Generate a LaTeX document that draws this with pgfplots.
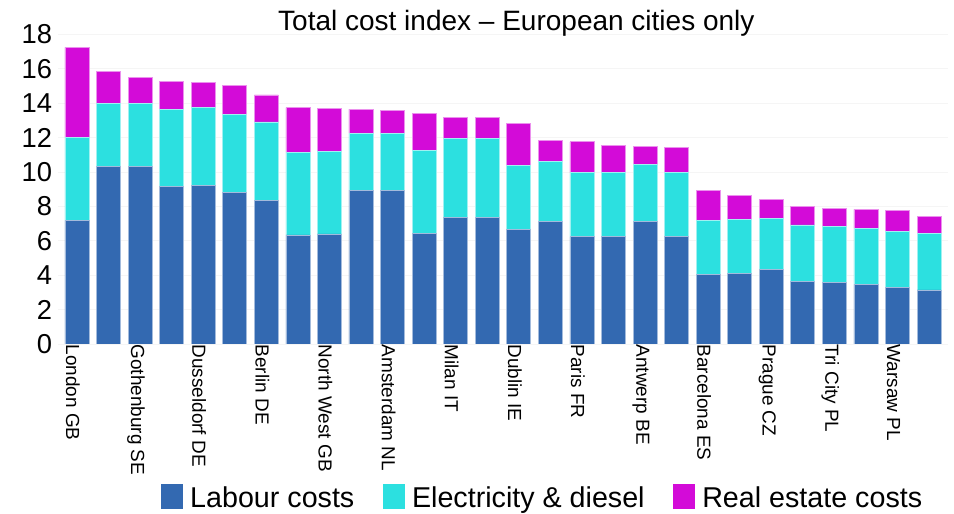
\documentclass[border=0pt]{standalone}
\usepackage{fontspec}
\setmainfont{Liberation Sans}
\usepackage{pgfplots}
\usepackage{pgfplotstable}
\pgfplotsset{compat=1.18}

\definecolor{labour}{HTML}{3369B1}
\definecolor{elec}{HTML}{2CE0E0}
\definecolor{realest}{HTML}{D30BD8}

% Cost index components per city (labour, electricity & diesel, real estate)
\pgfplotstableread{
idx L E R
0 7.19 4.83 5.23
1 10.31 3.68 1.84
2 10.31 3.68 1.51
3 9.15 4.51 1.59
4 9.21 4.53 1.47
5 8.82 4.55 1.65
6 8.37 4.54 1.57
7 6.34 4.82 2.58
8 6.40 4.80 2.48
9 8.95 3.30 1.41
10 8.95 3.30 1.32
11 6.43 4.85 2.13
12 7.37 4.57 1.22
13 7.37 4.57 1.22
14 6.67 3.72 2.42
15 7.11 3.51 1.22
16 6.24 3.72 1.80
17 6.24 3.76 1.57
18 7.13 3.32 1.04
19 6.24 3.72 1.45
20 4.07 3.14 1.74
21 4.11 3.14 1.37
22 4.34 2.95 1.14
23 3.62 3.30 1.06
24 3.57 3.27 1.05
25 3.47 3.27 1.09
26 3.27 3.30 1.22
27 3.14 3.27 1.03
}\costs

\begin{document}
\begin{tikzpicture}
\useasboundingbox (0,0) rectangle (715.5pt,385.5pt);
\begin{axis}[
  at={(43.5pt,127.5pt)}, anchor=south west,
  scale only axis, width=667.5pt, height=234.75pt,
  ybar stacked, bar width=18pt,
  xmin=-0.6, xmax=27.6, ymin=0, ymax=18.2,
  xtick={0,2,...,26},
  xticklabels={London GB, Gothenburg SE, Dusseldorf DE, Berlin DE,
    North West GB, Amsterdam NL, Milan IT, Dublin IE, Paris FR,
    Antwerp BE, Barcelona ES, Prague CZ, Tri City PL, Warsaw PL},
  ytick={0,2,...,18},
  axis line style={draw=none},
  major tick length=0pt,
  ymajorgrids, grid style={gray!8, line width=0.6pt},
  /pgf/number format/assume math mode=true,
  yticklabel style={font=\fontsize{20.5}{22}\selectfont, xshift=-1pt},
  xticklabel style={font=\fontsize{14.2}{16}\selectfont, rotate=-90, anchor=west, xshift=-3pt, yshift=-3pt},
  title={Total cost index – European cities only},
  title style={at={(0.515,1)}, anchor=base, font=\fontsize{21}{24}\selectfont, yshift=-5.5pt},
  legend style={at={(0.545,-0.492)}, anchor=center, draw=none, fill=none,
    legend columns=3, font=\fontsize{21.5}{24}\selectfont,
    /tikz/every even column/.append style={column sep=19.5pt}},
  legend image code/.code={%
    \fill[#1, draw=none] (0pt,-8pt) rectangle (16.5pt,10.5pt);
    \path (19.5pt,0pt);},
]
\addplot[fill=labour, draw=white!55!labour, line width=0.5pt] table[x=idx, y=L] {\costs};
\addlegendentry{Labour costs}
\addplot[fill=elec, draw=white!55!elec, line width=0.5pt] table[x=idx, y=E] {\costs};
\addlegendentry{Electricity \& diesel}
\addplot[fill=realest, draw=white!55!realest, line width=0.5pt] table[x=idx, y=R] {\costs};
\addlegendentry{Real estate costs}
\end{axis}
\end{tikzpicture}
\end{document}
